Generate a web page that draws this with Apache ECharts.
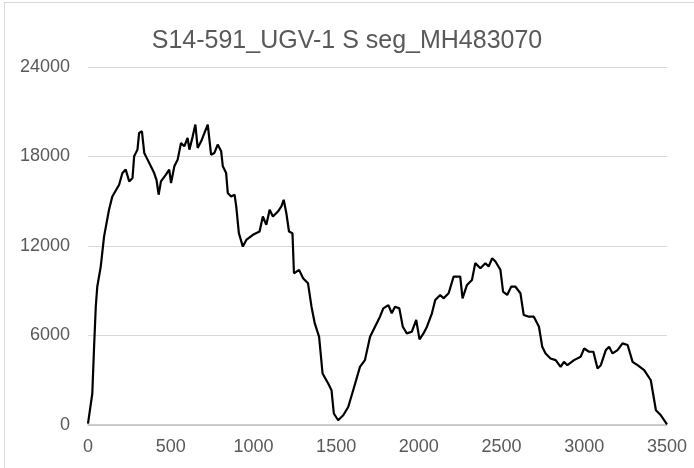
<!DOCTYPE html>
<html>
<head>
<meta charset="utf-8">
<script src="https://cdn.jsdelivr.net/npm/echarts@6/dist/echarts.min.js"></script>
<style>
  html, body { margin: 0; padding: 0; background: #fff; overflow: hidden; }
  #wrap { position: relative; width: 694px; height: 468px; overflow: hidden; }
  #frame { position: absolute; left: 4px; top: 2px; width: 720px; height: 500px; border: 1px solid #d9d9d9; box-sizing: border-box; }
  #chart { position: absolute; left: 0; top: 0; width: 694px; height: 468px; }
</style>
</head>
<body>
<div id="wrap">
  <div id="frame"></div>
  <div id="chart"></div>
</div>
<script>
// genome position (bp)
var positions = [0,26,36,47,56,77,97,127,147,188,
  208,228,249,269,279,299,309,326,340,360,
  380,400,414,427,441,471,491,502,522,542,
  562,582,602,613,633,649,663,684,704,724,
  744,764,784,805,815,835,845,865,886,896,
  912,936,957,997,1037,1057,1078,1098,1118,1148,
  1169,1183,1199,1215,1236,1245,1276,1300,1330,1351,
  1371,1397,1418,1452,1472,1486,1512,1543,1573,1603,
  1644,1674,1705,1735,1765,1785,1816,1836,1856,1882,
  1903,1927,1957,1984,2004,2028,2049,2079,2099,2129,
  2149,2180,2210,2250,2264,2291,2321,2341,2372,2402,
  2422,2443,2463,2493,2509,2534,2558,2584,2614,2634,
  2665,2695,2726,2746,2766,2796,2827,2857,2877,2898,
  2938,2978,2999,3029,3055,3080,3100,3130,3150,3171,
  3201,3231,3262,3292,3322,3362,3402,3433,3463,3500];

// coverage depth at each position
var coverage = [90,2110,5020,7930,9270,10620,12630,14430,15320,16110,
  16890,17120,16330,16560,18010,18460,19580,19690,18240,17790,
  17340,16890,16440,15440,16330,16780,17120,16220,17340,17790,
  18910,18680,19240,18460,19350,20140,18570,19020,19580,20140,
  18120,18240,18800,18350,17340,16890,15550,15320,15440,14650,
  12860,11960,12410,12750,12970,13980,13420,14430,13980,14310,
  14650,15100,14200,12970,12860,10170,10400,9840,9500,7930,
  6810,5910,3450,2780,2330,770,320,650,1210,2330,
  3900,4350,5910,6590,7260,7820,8040,7490,7930,7820,
  6590,6140,6250,7040,5740,6140,6590,7490,8380,8720,
  8490,8830,9950,9950,8490,9390,9720,10850,10510,10850,
  10620,11180,10960,10400,8940,8720,9270,9270,8830,7370,
  7260,7260,6590,5240,4800,4460,4350,3900,4230,4010,
  4350,4570,5130,4910,4910,3790,4010,5020,5240,4800,
  5020,5470,5360,4230,4010,3680,3000,990,650,50];

var titleText = 'S14-591_UGV-1 S seg_MH483070';

var seriesData = positions.map(function (p, i) { return [p, coverage[i]]; });
var font = 'Liberation Sans, Arial, sans-serif';

var chart = echarts.init(document.getElementById('chart'));
chart.setOption({
  animation: false,
  title: {
    text: titleText,
    left: 'center',
    top: 24,
    textStyle: { color: '#595959', fontSize: 25, fontWeight: 'normal', fontFamily: font }
  },
  grid: { left: 88, right: 27, top: 67, bottom: 43 },
  xAxis: {
    type: 'value',
    min: 0, max: 3500, interval: 500,
    axisLine: { lineStyle: { color: '#bfbfbf', width: 1.5 } },
    axisTick: { show: false },
    splitLine: { show: false },
    axisLabel: { color: '#595959', fontSize: 18, margin: 13, fontFamily: font, formatter: function (v) { return String(v); } }
  },
  yAxis: {
    type: 'value',
    min: 0, max: 24000, interval: 6000,
    axisLine: { show: false },
    axisTick: { show: false },
    splitLine: { lineStyle: { color: '#d9d9d9', width: 1 } },
    axisLabel: { color: '#595959', fontSize: 18, margin: 18, fontFamily: font, formatter: function (v) { return String(v); } }
  },
  series: [{
    type: 'line',
    data: seriesData,
    showSymbol: false,
    symbol: 'none',
    lineStyle: { color: '#000', width: 2.2 }
  }]
});
</script>
</body>
</html>
